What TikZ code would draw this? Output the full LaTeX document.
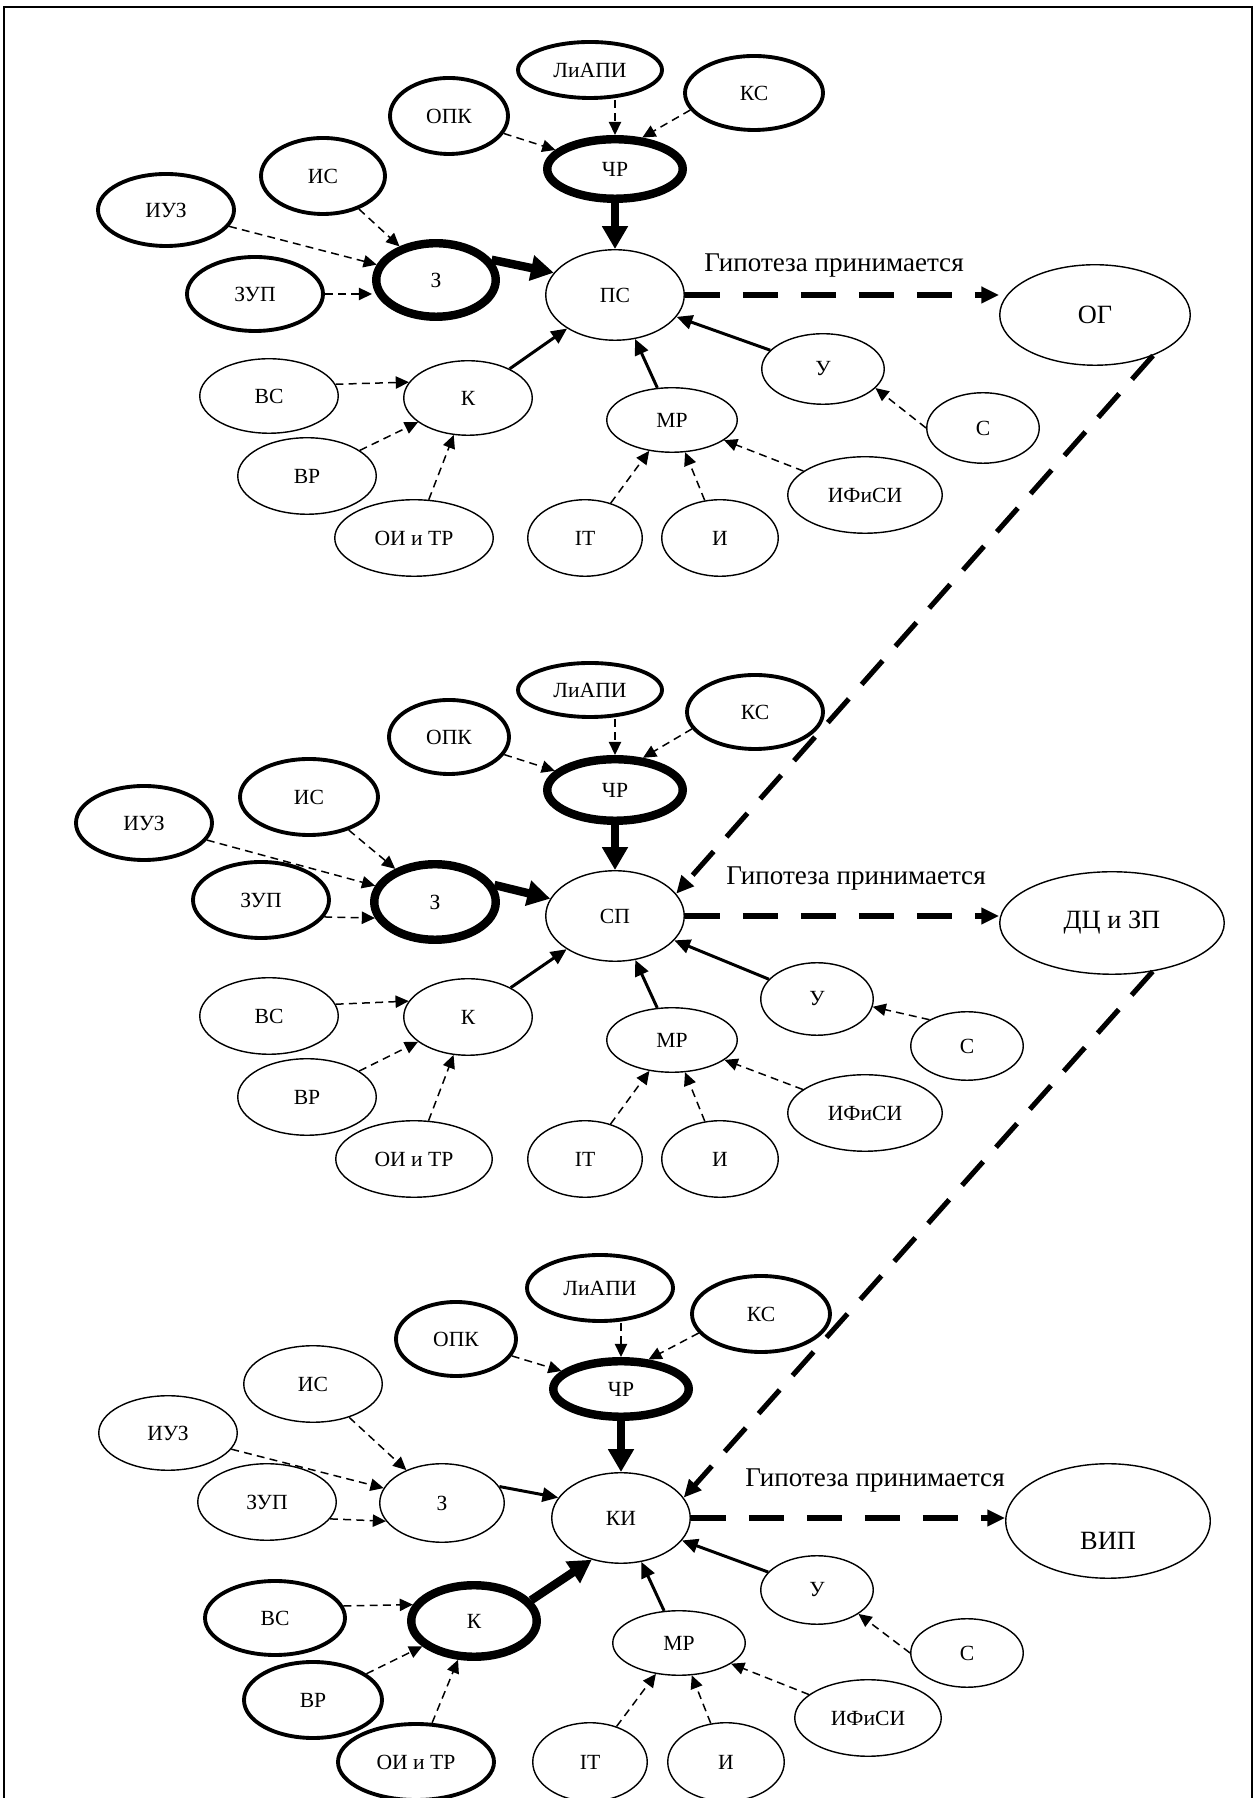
\documentclass[tikz,border=0pt]{standalone}
\usepackage{fontspec}
\setmainfont{Liberation Serif}
\usetikzlibrary{shapes.geometric,arrows.meta}

\begin{document}
\begin{tikzpicture}[
    bub/.style={ellipse, draw, inner sep=0pt, line width=0.8pt,
        font=\fontsize{12.3}{14}\selectfont},
    bubm/.style={bub, line width=2.2pt},
    bubt/.style={bub, line width=4.8pt},
    res/.style={bub, font=\fontsize{15}{18}\selectfont},
    sz/.style 2 args={minimum width=#1cm, minimum height=#2cm},
    hyp/.style={font=\fontsize{15.4}{18}\selectfont},
    dasharr/.style={-{Triangle[length=7.5pt,width=7pt]}, line width=0.85pt,
        dash pattern=on 4.5pt off 3pt},
    midarr/.style={-{Triangle[length=9pt,width=8pt]}, line width=1.7pt},
    bigarr/.style={-{Triangle[length=13pt,width=14pt]}, line width=4.8pt},
    hyparr/.style={-{Triangle[length=10pt,width=9pt]}, line width=3.7pt,
        dash pattern=on 20pt off 13pt},
    linkarr/.style={-{Triangle[length=10pt,width=9pt]}, line width=2.9pt,
        dash pattern=on 18pt off 11pt}
]
    \clip (0,0) rectangle (25.16,35.96);

    % Frame
    \draw[line width=0.9pt] (0.08,-0.5) -- (0.08,35.82) -- (25.04,35.82) -- (25.04,-0.5);

    % Panel 1
    \node[bubm, sz={2.88}{1.12}] (liapi1) at (11.80,34.56) {ЛиАПИ};
    \node[bubm, sz={2.76}{1.48}] (ks1) at (15.08,34.10) {КС};
    \node[bubm, sz={2.36}{1.52}] (opk1) at (8.98,33.64) {ОПК};
    \node[bubt, sz={2.71}{1.19}] (chr1) at (12.30,32.58) {ЧР};
    \node[bubm, sz={2.48}{1.52}] (is1) at (6.46,32.44) {ИС};
    \node[bubm, sz={2.72}{1.44}] (iuz1) at (3.32,31.76) {ИУЗ};
    \node[bubt, sz={2.39}{1.47}] (z1) at (8.72,30.36) {З};
    \node[bubm, sz={2.72}{1.48}] (zup1) at (5.10,30.08) {ЗУП};
    \node[bub, sz={2.77}{1.81}] (ps) at (12.30,30.06) {ПС};
    \node[res, sz={3.81}{2.01}] (og) at (21.90,29.66) {ОГ};
    \node[hyp] (hyp1) at (16.68,30.64) {Гипотеза принимается};
    \node[bub, sz={2.77}{1.49}] (vs1) at (5.38,28.04) {ВС};
    \node[bub, sz={2.57}{1.49}] (k1) at (9.36,28.00) {К};
    \node[bub, sz={2.45}{1.41}] (u1) at (16.46,28.58) {У};
    \node[bub, sz={2.25}{1.41}] (s1) at (19.66,27.40) {С};
    \node[bub, sz={2.61}{1.29}] (mr1) at (13.44,27.56) {МР};
    \node[bub, sz={2.77}{1.53}] (vr1) at (6.14,26.44) {ВР};
    \node[bub, sz={3.09}{1.53}] (ifisi1) at (17.30,26.06) {ИФиСИ};
    \node[bub, sz={3.17}{1.53}] (oitr1) at (8.28,25.20) {ОИ и ТР};
    \node[bub, sz={2.29}{1.53}] (it1) at (11.70,25.20) {IT};
    \node[bub, sz={2.33}{1.53}] (i1) at (14.40,25.20) {И};

    \draw[dasharr] (liapi1.south -| chr1.north) -- (chr1.north);
    \draw[dasharr] (opk1) -- (chr1);
    \draw[dasharr] (ks1.195) -- (chr1.49);
    \draw[bigarr] (chr1) -- (ps);
    \draw[dasharr] (is1) -- (z1);
    \draw[dasharr] (iuz1) -- (z1);
    \draw[dasharr] (zup1.east) -- (zup1.east -| z1.west);
    \draw[bigarr] (z1.20) -- (ps.160);
    \draw[midarr] (k1) -- (ps);
    \draw[dasharr] (vs1.10) -- (k1.165);
    \draw[dasharr] (vr1) -- (k1);
    \draw[dasharr] (oitr1) -- (k1);
    \draw[dasharr] (it1) -- (mr1);
    \draw[dasharr] (i1) -- (mr1);
    \draw[dasharr] (ifisi1) -- (mr1);
    \draw[midarr] (mr1) -- (ps);
    \draw[midarr] (u1) -- (ps);
    \draw[dasharr] (s1.west) -- (u1.-20);
    \draw[hyparr] (ps.east) -- (ps.east -| og.west);

    % Panel 2
    \node[bubm, sz={2.88}{1.08}] (liapi2) at (11.80,22.16) {ЛиАПИ};
    \node[bubm, sz={2.72}{1.48}] (ks2) at (15.10,21.72) {КС};
    \node[bubm, sz={2.40}{1.48}] (opk2) at (8.98,21.22) {ОПК};
    \node[bubt, sz={2.71}{1.23}] (chr2) at (12.30,20.16) {ЧР};
    \node[bubm, sz={2.76}{1.52}] (is2) at (6.18,20.02) {ИС};
    \node[bubm, sz={2.72}{1.48}] (iuz2) at (2.88,19.50) {ИУЗ};
    \node[bubt, sz={2.43}{1.51}] (z2) at (8.70,17.92) {З};
    \node[bubm, sz={2.72}{1.52}] (zup2) at (5.22,17.96) {ЗУП};
    \node[bub, sz={2.77}{1.81}] (sp) at (12.30,17.64) {СП};
    \node[res, sz={4.49}{2.05}] (dcz) at (22.24,17.50) {ДЦ и ЗП};
    \node[hyp] (hyp2) at (17.12,18.38) {Гипотеза принимается};
    \node[bub, sz={2.77}{1.53}] (vs2) at (5.38,15.64) {ВС};
    \node[bub, sz={2.57}{1.53}] (k2) at (9.36,15.62) {К};
    \node[bub, sz={2.25}{1.45}] (u2) at (16.34,15.98) {У};
    \node[bub, sz={2.25}{1.37}] (s2) at (19.34,15.04) {С};
    \node[bub, sz={2.61}{1.29}] (mr2) at (13.44,15.16) {МР};
    \node[bub, sz={2.77}{1.53}] (vr2) at (6.14,14.02) {ВР};
    \node[bub, sz={3.09}{1.53}] (ifisi2) at (17.30,13.70) {ИФиСИ};
    \node[bub, sz={3.13}{1.53}] (oitr2) at (8.28,12.78) {ОИ и ТР};
    \node[bub, sz={2.29}{1.53}] (it2) at (11.70,12.78) {IT};
    \node[bub, sz={2.33}{1.53}] (i2) at (14.40,12.78) {И};

    \draw[linkarr] (og.-35) -- (sp.20);
    \draw[dasharr] (liapi2.south -| chr2.north) -- (chr2.north);
    \draw[dasharr] (opk2) -- (chr2);
    \draw[dasharr] (ks2.195) -- (chr2.49);
    \draw[bigarr] (chr2) -- (sp);
    \draw[dasharr] (is2) -- (z2);
    \draw[dasharr] (iuz2) -- (z2);
    \draw[dasharr] (zup2.-15) -- (z2.195);
    \draw[bigarr] (z2.16) -- (sp.165);
    \draw[midarr] (k2) -- (sp);
    \draw[dasharr] (vs2.10) -- (k2.165);
    \draw[dasharr] (vr2) -- (k2);
    \draw[dasharr] (oitr2) -- (k2);
    \draw[dasharr] (it2) -- (mr2);
    \draw[dasharr] (i2) -- (mr2);
    \draw[dasharr] (ifisi2) -- (mr2);
    \draw[midarr] (mr2) -- (sp);
    \draw[midarr] (u2) -- (sp);
    \draw[dasharr] (s2.145) -- (u2.-8);
    \draw[hyparr] (sp.east) -- (sp.east -| dcz.west);

    % Panel 3
    \node[bubm, sz={2.92}{1.32}] (liapi3) at (12.00,10.20) {ЛиАПИ};
    \node[bubm, sz={2.76}{1.52}] (ks3) at (15.22,9.68) {КС};
    \node[bubm, sz={2.40}{1.48}] (opk3) at (9.12,9.18) {ОПК};
    \node[bubt, sz={2.71}{1.11}] (chr3) at (12.42,8.18) {ЧР};
    \node[bub, sz={2.77}{1.53}] (is3) at (6.26,8.28) {ИС};
    \node[bub, sz={2.77}{1.49}] (iuz3) at (3.36,7.30) {ИУЗ};
    \node[bub, sz={2.49}{1.57}] (z3) at (8.84,5.90) {З};
    \node[bub, sz={2.77}{1.53}] (zup3) at (5.34,5.92) {ЗУП};
    \node[bub, sz={2.77}{1.81}] (ki) at (12.42,5.60) {КИ};
    \node[res, sz={4.09}{2.29}, text height=32.8pt, text depth=0pt] (vip) at (22.16,5.54) {ВИП};
    \node[hyp] (hyp3) at (17.50,6.34) {Гипотеза принимается};
    \node[bubm, sz={2.80}{1.48}] (vs3) at (5.50,3.60) {ВС};
    \node[bubt, sz={2.51}{1.43}] (k3) at (9.48,3.54) {К};
    \node[bub, sz={2.25}{1.37}] (u3) at (16.34,4.16) {У};
    \node[bub, sz={2.25}{1.37}] (s3) at (19.34,2.90) {С};
    \node[bub, sz={2.65}{1.29}] (mr3) at (13.58,3.10) {МР};
    \node[bubm, sz={2.76}{1.52}] (vr3) at (6.26,1.96) {ВР};
    \node[bub, sz={2.93}{1.53}] (ifisi3) at (17.36,1.60) {ИФиСИ};
    \node[bubm, sz={3.12}{1.52}] (oitr3) at (8.32,0.72) {ОИ и ТР};
    \node[bub, sz={2.29}{1.57}] (it3) at (11.80,0.72) {IT};
    \node[bub, sz={2.33}{1.57}] (i3) at (14.52,0.72) {И};

    \draw[linkarr] (dcz.-50) -- (ki.18);
    \draw[dasharr] (liapi3.south -| chr3.north) -- (chr3.north);
    \draw[dasharr] (opk3) -- (chr3);
    \draw[dasharr] (ks3.197) -- (chr3.47);
    \draw[bigarr] (chr3) -- (ki);
    \draw[dasharr] (is3) -- (z3);
    \draw[dasharr] (iuz3) -- (z3);
    \draw[dasharr] (zup3.-15) -- (z3.198);
    \draw[midarr] (z3.16) -- (ki.162);
    \draw[bigarr] (k3.20) -- (ki.235);
    \draw[dasharr] (vs3.10) -- (k3.165);
    \draw[dasharr] (vr3) -- (k3);
    \draw[dasharr] (oitr3) -- (k3);
    \draw[dasharr] (it3) -- (mr3);
    \draw[dasharr] (i3) -- (mr3);
    \draw[dasharr] (ifisi3) -- (mr3);
    \draw[midarr] (mr3) -- (ki);
    \draw[midarr] (u3) -- (ki);
    \draw[dasharr] (s3.west) -- (u3.-30);
    \draw[hyparr] (ki.east) -- (ki.east -| vip.west);

\end{tikzpicture}
\end{document}
